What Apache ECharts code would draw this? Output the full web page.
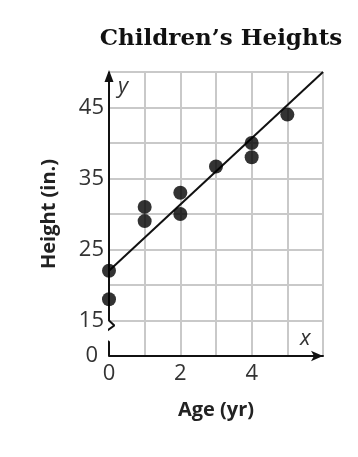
<!DOCTYPE html>
<html><head><meta charset="utf-8">
<script src="https://cdn.jsdelivr.net/npm/echarts@6/dist/echarts.min.js"></script>
<style>html,body{margin:0;padding:0;background:#fff}#c{width:358px;height:457px}</style>
</head><body><div id="c"></div>
<script>
// Data
const title = 'Children\u2019s Heights';
const xName = 'Age (yr)';
const yName = 'Height (in.)';
const ages    = [0, 0, 1, 1, 2, 2, 3, 4, 4, 5];
const heights = [22, 18, 31, 29, 33, 30, 36.7, 40, 38, 44];
const fitX = [0, 6];
const fitY = [22, 50];
const xTickLabels = [0, 2, 4];
const yTickLabels = [15, 25, 35, 45];
const yBreakBase = 10;      // axis bottom shown as "0" (broken axis)
const yBreakLabel = '0';
// broken y-axis path (axis units)
const axisPathX = [0, 0, -0.3, 0.15, 0, 0];
const axisPathY = [10, 12.0, 12.7, 14.3, 15, 50];

const chart = echarts.init(document.getElementById('c'), null, {renderer: 'canvas'});
const grey = '#c9c9c9';
const labelFont = {fontFamily: 'Open Sans', fontSize: 22, color: '#333'};

chart.setOption({
  animation: false,
  backgroundColor: '#fff',
  title: {
    text: title, left: 216, top: 23, textAlign: 'center',
    textStyle: {fontFamily: 'DejaVu Serif', fontWeight: 'bold', fontSize: 23, color: '#111'}
  },
  grid: {left: 109, right: 35, top: 72, bottom: 101, containLabel: false},
  xAxis: {
    type: 'value', min: 0, max: 6, interval: 1,
    name: xName, nameLocation: 'middle', nameGap: 44,
    nameTextStyle: {fontFamily: 'Open Sans', fontWeight: 'bold', fontSize: 20, color: '#222'},
    axisLine: {show: true, lineStyle: {color: '#111', width: 2}, symbol: ['none', 'arrow'], symbolSize: [8, 12], symbolOffset: [0, 0]},
    axisTick: {show: false},
    axisLabel: Object.assign({margin: 7, formatter: v => xTickLabels.includes(v) ? String(v) : ''}, labelFont),
    splitLine: {show: true, showMinLine: false, lineStyle: {color: grey, width: 2}}
  },
  yAxis: {
    type: 'value', min: 10, max: 50, interval: 5,
    name: yName, nameLocation: 'middle', nameGap: 50, nameRotate: 90,
    nameTextStyle: {fontFamily: 'Open Sans', fontWeight: 'bold', fontSize: 20, color: '#222'},
    axisLine: {show: false},
    axisTick: {show: false},
    axisLabel: Object.assign({
      margin: 5,
      formatter: v => v === yBreakBase ? '{z|' + yBreakLabel + '}' : (yTickLabels.includes(v) ? String(v) : ''),
      rich: {z: {fontFamily: 'Open Sans', fontSize: 22, color: '#333', padding: [0, 6, 0, 0]}}
    }, labelFont),
    splitLine: {show: true, showMinLine: false, lineStyle: {color: grey, width: 2}}
  },
  graphic: [
    {type: 'text', left: 118, top: 76, style: {text: 'y', font: 'italic 22px "Open Sans"', fill: '#333'}},
    {type: 'text', left: 300, top: 328, style: {text: 'x', font: 'italic 22px "Open Sans"', fill: '#333'}}
  ],
  series: [
    {
      type: 'line', clip: false, silent: true,
      data: axisPathX.map((x, i) => i === axisPathX.length - 1
        ? {value: [x, axisPathY[i]], symbol: 'triangle', symbolSize: [9, 12], symbolOffset: [0, 4]}
        : {value: [x, axisPathY[i]], symbol: 'none'}),
      lineStyle: {color: '#111', width: 2},
      itemStyle: {color: '#111'},
      z: 5
    },
    {
      type: 'line', silent: true, symbol: 'none',
      data: fitX.map((x, i) => [x, fitY[i]]),
      lineStyle: {color: '#111', width: 2}, z: 4
    },
    {
      type: 'scatter', symbolSize: 14,
      data: ages.map((a, i) => [a, heights[i]]),
      itemStyle: {color: '#000'}, z: 6
    }
  ]
});
</script>
</body></html>
